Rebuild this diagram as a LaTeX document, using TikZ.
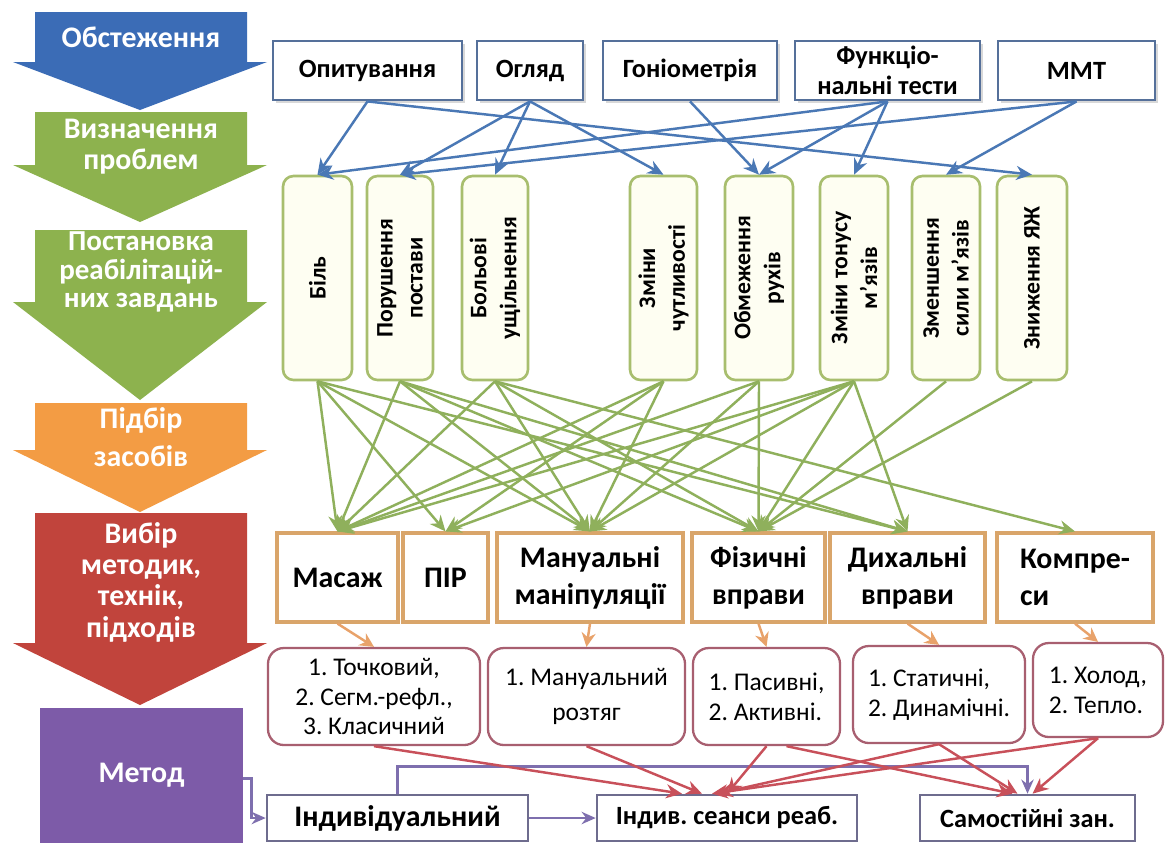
\documentclass[tikz,border=0pt]{standalone}
\usepackage{fontspec}
\setmainfont{Carlito}
\usetikzlibrary{arrows.meta,calc,shadows}
\frenchspacing
\definecolor{cBlue}{HTML}{3B6CB6}
\definecolor{cGreen}{HTML}{8DB24E}
\definecolor{cOrange}{HTML}{F39C44}
\definecolor{cRed}{HTML}{C1443C}
\definecolor{cPurple}{HTML}{7D5BA8}
\definecolor{cTopB}{HTML}{55709A}
\definecolor{cBlA}{HTML}{4A78B5}
\definecolor{cGrB}{HTML}{A8BE6E}
\definecolor{cGrF}{HTML}{FEFEF2}
\definecolor{cGrA}{HTML}{8FB05C}
\definecolor{cOrB}{HTML}{D9A56A}
\definecolor{cOrA}{HTML}{E8A26A}
\definecolor{cRdB}{HTML}{A85F70}
\definecolor{cRdA}{HTML}{C8505A}
\definecolor{cBtB}{HTML}{6E6C8E}
\definecolor{cPrA}{HTML}{7E6FAE}
\newcommand{\fsLeft}{\fontsize{17}{17}\selectfont\bfseries}
\newcommand{\fsTop}{\fontsize{15}{17}\selectfont\bfseries}
\newcommand{\fsGreen}{\fontsize{13.5}{17}\selectfont\bfseries}
\newcommand{\fsOr}{\fontsize{17}{21}\selectfont\bfseries}
\newcommand{\fsRd}{\fontsize{14.5}{17}\selectfont}
\newcommand{\fsBt}{\fontsize{15}{17}\selectfont\bfseries}
\begin{document}
\begin{tikzpicture}[x=0.02cm,y=-0.02cm,
  box/.style n args={4}{at={({(#1+#3)/2},{(#2+#4)/2})},minimum width={(#3-#1)*0.02cm},minimum height={(#4-#2)*0.02cm}},
  lefttext/.style={text=white,font=\fsLeft,align=center,inner sep=0pt},
  topbox/.style={draw=cTopB,line width=1.6pt,fill=white,inner sep=0pt,font=\fsTop,align=center,
     drop shadow={shadow xshift=1.5pt,shadow yshift=-1.5pt,opacity=0.3,fill=gray}},
  greenbox/.style={draw=cGrB,line width=1.5pt,fill=cGrF,rounded corners=6pt,inner sep=0pt},
  gtext/.style={rotate=90,font=\fsGreen,align=center,inner sep=0pt},
  orbox/.style={draw=cOrB,line width=1.8pt,fill=white,inner sep=0pt,font=\fsOr,align=center},
  rdbox/.style={draw=cRdB,line width=1.3pt,fill=white,rounded corners=9pt,inner sep=0pt,font=\fsRd,align=center},
  btbox/.style={draw=cBtB,line width=1.5pt,fill=white,inner sep=0pt,font=\fsBt},
  blarr/.style={draw=cBlA,line width=1.4pt,-{Stealth[length=9pt,width=8pt]}},
  grarr/.style={draw=cGrA,line width=1.4pt,-{Stealth[length=9pt,width=8pt]}},
  orarr/.style={draw=cOrA,line width=1.4pt,-{Stealth[length=8pt,width=8pt]}},
  rdarr/.style={draw=cRdA,line width=1.4pt,-{Stealth[length=9pt,width=8pt]}},
  prarr/.style={draw=cPrA,line width=1.4pt,-{Stealth[length=8pt,width=7pt]}}
]
\useasboundingbox (0,0) rectangle (1168,843);
\fill[white] (0,0) rectangle (1168,843);

% ---- left column of process arrows ----
\fill[cBlue] (35,12) -- (247,12) -- (247,62) -- (267,62) -- (140,110) -- (13,62) -- (35,62) -- cycle;
\fill[cGreen] (35,112) -- (247,112) -- (247,165) -- (267,165) -- (140,222) -- (13,165) -- (35,165) -- cycle;
\fill[cGreen] (35,230) -- (247,230) -- (247,302) -- (267,302) -- (140,400) -- (13,302) -- (35,302) -- cycle;
\fill[cOrange] (35,403) -- (247,403) -- (247,450) -- (267,450) -- (140,512) -- (13,450) -- (35,450) -- cycle;
\fill[cRed] (35,513) -- (247,513) -- (247,643) -- (267,643) -- (140,705) -- (13,643) -- (35,643) -- cycle;
\node[lefttext] (l1) at (141,37) {Обстеження};
\node[lefttext,font=\fontsize{17}{17.5}\selectfont\bfseries] (l2) at (141,147) {Визначення\\проблем};
\node[lefttext,font=\fontsize{16.5}{16}\selectfont\bfseries] (l3) at (141,272) {Постановка\\реабілітацій-\\них завдань};
\node[lefttext,font=\fontsize{17}{22}\selectfont\bfseries] (l4) at (141,437) {Підбір\\засобів};
\node[lefttext,font=\fontsize{17}{17.8}\selectfont\bfseries] (l5) at (141,582) {Вибір\\методик,\\технік,\\підходів};
\node[box={40}{708}{243}{843},fill=cPurple,inner sep=0pt,text=white,font=\fsLeft] (metod) {Метод};

% ---- top examination boxes ----
\node[topbox,box={273}{41}{462}{100}] (opyt) {Опитування};
\node[topbox,box={477}{41}{583}{100}] (ohlyad) {Огляд};
\node[topbox,box={603}{41}{777}{100}] (honio) {Гоніометрія};
\node[topbox,box={795}{41}{980}{100}] (funk) {Функціо-\\нальні тести};
\node[topbox,box={998}{41}{1155}{100}] (mmt) {ММТ};

% ---- problem boxes ----
\node[greenbox,box={283}{176}{352}{380}] (bil) {};
\node[greenbox,box={367}{176}{433}{380}] (poru) {};
\node[greenbox,box={462}{176}{528}{380}] (bolovi) {};
\node[greenbox,box={630}{176}{697}{380}] (chut) {};
\node[greenbox,box={725}{176}{793}{380}] (obm) {};
\node[greenbox,box={820}{176}{888}{380}] (tonus) {};
\node[greenbox,box={912}{176}{980}{380}] (syla) {};
\node[greenbox,box={997}{176}{1067}{380}] (yazh) {};
\node[gtext] (bilT) at (bil.center) {Біль};
\node[gtext] (poruT) at (poru.center) {Порушення\\постави};
\node[gtext] (boloviT) at (bolovi.center) {Больові\\ущільнення};
\node[gtext] (chutT) at (chut.center) {Зміни\\чутливості};
\node[gtext] (obmT) at (obm.center) {Обмеження\\рухів};
\node[gtext] (tonusT) at (tonus.center) {Зміни тонусу\\м'язів};
\node[gtext] (sylaT) at (syla.center) {Зменшення\\сили м'язів};
\node[gtext] (yazhT) at (yazh.center) {Зниження ЯЖ};

% ---- means boxes ----
\node[orbox,box={277}{533}{398}{622}] (masazh) {Масаж};
\node[orbox,box={403}{533}{488}{622}] (pir) {ПІР};
\node[orbox,box={497}{533}{683}{622}] (manual) {Мануальні\\маніпуляції};
\node[orbox,box={692}{533}{825}{622}] (fiz) {Фізичні\\вправи};
\node[orbox,box={830}{533}{985}{622}] (dykh) {Дихальні\\вправи};
\node[orbox,box={997}{533}{1153}{622},align=left] (kompr) {Компре-\\си};

% ---- technique boxes ----
\node[rdbox,box={268}{648}{480}{745}] (tochk) {1. Точковий,\\2. Сегм.-рефл.,\\3. Класичний};
\node[rdbox,box={488}{648}{685}{745},font=\fontsize{14.5}{20}\selectfont] (rozt) {1. Мануальний\\розтяг};
\node[rdbox,box={693}{648}{840}{745},align=left] (pasyv) {1. Пасивні,\\2. Активні.};
\node[rdbox,box={853}{646}{1025}{743},align=left] (stat) {1. Статичні,\\2. Динамічні.};
\node[rdbox,box={1033}{643}{1163}{737},align=left] (kholod) {1. Холод,\\2. Тепло.};

% ---- method boxes ----
\node[btbox,box={267}{795}{528}{841},font=\fontsize{17}{17}\selectfont\bfseries] (indiv) {Індивідуальний};
\node[btbox,box={597}{795}{857}{841}] (seansy) {Індив. сеанси реаб.};
\node[btbox,box={920}{795}{1135}{841}] (samost) {Самостійні зан.};

% ---- blue connectors ----
\draw[blarr] (opyt.south) -- (bil.north);
\draw[blarr] (opyt.south) -- (yazh.north);
\draw[blarr] (ohlyad.south) -- (poru.north);
\draw[blarr] (ohlyad.south) -- (bolovi.north);
\draw[blarr] (ohlyad.south) -- (chut.north);
\draw[blarr] (honio.south) -- (obm.north);
\draw[blarr] (funk.south) -- (bil.north);
\draw[blarr] (funk.south) -- (obm.north);
\draw[blarr] (funk.south) -- (tonus.north);
\draw[blarr] (mmt.south) -- (poru.north);
\draw[blarr] (mmt.south) -- (syla.north);

% ---- green connectors ----
\foreach \s/\t in {bil/masazh,bil/pir,bil/manual,bil/dykh,
  poru/masazh,poru/manual,poru/fiz,poru/dykh,
  bolovi/masazh,bolovi/manual,bolovi/fiz,bolovi/kompr,
  chut/masazh,chut/pir,chut/manual,
  obm/masazh,obm/manual,obm/fiz,
  tonus/masazh,tonus/pir,tonus/manual,tonus/fiz,tonus/dykh,
  syla/fiz,yazh/fiz}
  \draw[grarr] (\s.south) -- (\t.north);

% ---- orange connectors ----
\draw[orarr] (masazh.south) -- (tochk.north);
\draw[orarr] (manual.south) -- (rozt.north);
\draw[orarr] (fiz.south) -- (pasyv.north);
\draw[orarr] (dykh.south) -- (stat.north);
\draw[orarr] (kompr.south) -- (kholod.north);

% ---- purple connectors ----
\draw[prarr] ($(metod.east)+(0,3)$) -- ++(8,0) |- (indiv.west);
\draw[prarr] (indiv.east) -- (seansy.west);
\draw[prarr] (indiv.north) |- ($(samost.north)+(0,-27)$) -- (samost.north);

% ---- red connectors ----
\draw[rdarr] (tochk.south) -- ($(seansy.north)+(-45,0)$);
\draw[rdarr] (rozt.south) -- ($(seansy.north)+(-25,0)$);
\draw[rdarr] (pasyv.south) -- ($(seansy.north)+(0,0)$);
\draw[rdarr] ($(pasyv.south)+(20,0)$) -- ($(samost.north)+(-15,0)$);
\draw[rdarr] (stat.south) -- ($(seansy.north)+(-10,0)$);
\draw[rdarr] (stat.south) -- ($(samost.north)+(-10,0)$);
\draw[rdarr] (kholod.south) -- ($(seansy.north)+(-15,0)$);
\draw[rdarr] (kholod.south) -- ($(samost.north)+(5,0)$);
\end{tikzpicture}
\end{document}
